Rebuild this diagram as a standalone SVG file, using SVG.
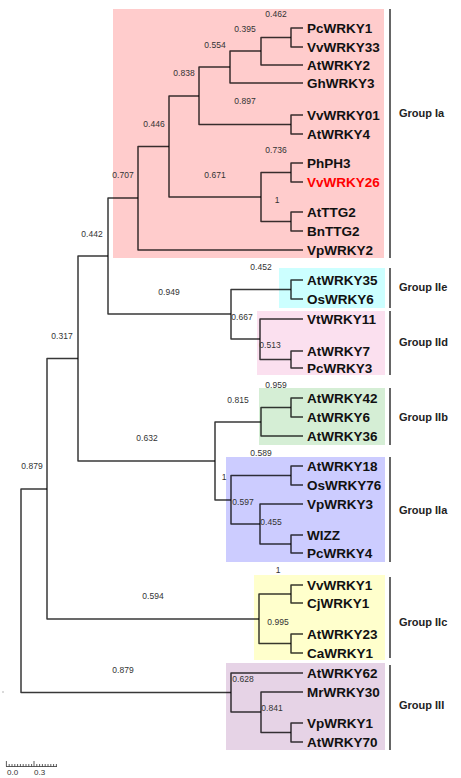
<svg xmlns="http://www.w3.org/2000/svg" width="461" height="778" viewBox="0 0 461 778">
<style>
.leaf{font-family:"Liberation Sans",Arial,sans-serif;font-weight:bold;font-size:13.5px;fill:#111}
.red{fill:#ff0000}
.sup{font-family:"Liberation Sans",Arial,sans-serif;font-size:8.5px;fill:#333;text-anchor:middle}
.grp{font-family:"Liberation Sans",Arial,sans-serif;font-weight:bold;font-size:11px;fill:#222}
.br{fill:none;stroke:#000;stroke-opacity:0.78;stroke-width:1.5;stroke-linejoin:round}
.bar{stroke:#666;stroke-width:2}
.sc{font-family:"Liberation Sans",Arial,sans-serif;font-size:8px;fill:#333}
</style>
<rect width="461" height="778" fill="#fff"/>
<g id="boxes">
<rect id="box-Ia" x="113" y="9" width="271" height="249" fill="#ffcccc"/>
<rect id="box-IIe" x="279" y="268" width="106" height="40" fill="#ccffff"/>
<rect id="box-IId" x="257" y="311" width="128" height="64" fill="#fbe0ef"/>
<rect id="box-IIb" x="259" y="388" width="126" height="57" fill="#d5eed5"/>
<rect id="box-IIa" x="226" y="457" width="159" height="105" fill="#ccccff"/>
<rect id="box-IIc" x="254" y="575" width="131" height="85" fill="#ffffcc"/>
<rect id="box-III" x="226" y="663" width="159" height="87" fill="#e6d3e6"/>
</g>
<g id="connectors">
<path class="br" d="M303 28H291V47H303"/>
<path class="br" d="M291 37.5H261V65H303"/>
<path class="br" d="M261 51H230V83H303"/>
<path class="br" d="M303 115H291V134H303"/>
<path class="br" d="M230 67H199V124.5H291"/>
<path class="br" d="M303 163H291V182H303"/>
<path class="br" d="M303 212H291V231H303"/>
<path class="br" d="M291 172.5H261V221.5H291"/>
<path class="br" d="M199 96H169V197H261"/>
<path class="br" d="M169 146.5H138V250H303"/>
<path class="br" d="M303 280H291V299H303"/>
<path class="br" d="M303 351H291V368H303"/>
<path class="br" d="M303 319H260V359.5H291"/>
<path class="br" d="M291 289.5H231V339H260"/>
<path class="br" d="M138 198H108V314H231"/>
<path class="br" d="M303 398H291V417H303"/>
<path class="br" d="M291 407.5H261V436H303"/>
<path class="br" d="M303 466H291V485H303"/>
<path class="br" d="M303 535H291V553H303"/>
<path class="br" d="M303 504H260V544H291"/>
<path class="br" d="M291 475.5H231V524H260"/>
<path class="br" d="M261 422H215V500H231"/>
<path class="br" d="M108 256H78V461H215"/>
<path class="br" d="M303 585H291V603H303"/>
<path class="br" d="M303 634H291V653H303"/>
<path class="br" d="M291 594H259V643.5H291"/>
<path class="br" d="M78 358.5H47V619H259"/>
<path class="br" d="M303 723H291V742H303"/>
<path class="br" d="M303 692H261V732.5H291"/>
<path class="br" d="M303 673H231V712H261"/>
<path class="br" d="M47 489H21V692.5H231"/>
</g>
<g id="leaves">
<text class="leaf" x="307" y="33">PcWRKY1</text>
<text class="leaf" x="307" y="52">VvWRKY33</text>
<text class="leaf" x="307" y="70">AtWRKY2</text>
<text class="leaf" x="307" y="88">GhWRKY3</text>
<text class="leaf" x="307" y="120">VvWRKY01</text>
<text class="leaf" x="307" y="139">AtWRKY4</text>
<text class="leaf" x="307" y="168">PhPH3</text>
<text class="leaf red" x="307" y="187">VvWRKY26</text>
<text class="leaf" x="307" y="217">AtTTG2</text>
<text class="leaf" x="307" y="236">BnTTG2</text>
<text class="leaf" x="307" y="255">VpWRKY2</text>
<text class="leaf" x="307" y="285">AtWRKY35</text>
<text class="leaf" x="307" y="304">OsWRKY6</text>
<text class="leaf" x="307" y="324">VtWRKY11</text>
<text class="leaf" x="307" y="356">AtWRKY7</text>
<text class="leaf" x="307" y="373">PcWRKY3</text>
<text class="leaf" x="307" y="403">AtWRKY42</text>
<text class="leaf" x="307" y="422">AtWRKY6</text>
<text class="leaf" x="307" y="441">AtWRKY36</text>
<text class="leaf" x="307" y="471">AtWRKY18</text>
<text class="leaf" x="307" y="490">OsWRKY76</text>
<text class="leaf" x="307" y="509">VpWRKY3</text>
<text class="leaf" x="307" y="540">WIZZ</text>
<text class="leaf" x="307" y="558">PcWRKY4</text>
<text class="leaf" x="307" y="590">VvWRKY1</text>
<text class="leaf" x="307" y="608">CjWRKY1</text>
<text class="leaf" x="307" y="639">AtWRKY23</text>
<text class="leaf" x="307" y="658">CaWRKY1</text>
<text class="leaf" x="307" y="678">AtWRKY62</text>
<text class="leaf" x="307" y="697">MrWRKY30</text>
<text class="leaf" x="307" y="728">VpWRKY1</text>
<text class="leaf" x="307" y="747">AtWRKY70</text>
</g>
<g id="support">
<text class="sup" x="276" y="17">0.462</text>
<text class="sup" x="245" y="32">0.395</text>
<text class="sup" x="215" y="48">0.554</text>
<text class="sup" x="184" y="76">0.838</text>
<text class="sup" x="245" y="104">0.897</text>
<text class="sup" x="154" y="127">0.446</text>
<text class="sup" x="276" y="153">0.736</text>
<text class="sup" x="215" y="178">0.671</text>
<text class="sup" x="123" y="178">0.707</text>
<text class="sup" x="277" y="203">1</text>
<text class="sup" x="92" y="237">0.442</text>
<text class="sup" x="261" y="270">0.452</text>
<text class="sup" x="169" y="295">0.949</text>
<text class="sup" x="242" y="320">0.667</text>
<text class="sup" x="270" y="348">0.513</text>
<text class="sup" x="62" y="339">0.317</text>
<text class="sup" x="276" y="388">0.959</text>
<text class="sup" x="238" y="403">0.815</text>
<text class="sup" x="147" y="441">0.632</text>
<text class="sup" x="261" y="456">0.589</text>
<text class="sup" x="224" y="480">1</text>
<text class="sup" x="243" y="505">0.597</text>
<text class="sup" x="271" y="525">0.455</text>
<text class="sup" x="32" y="469">0.879</text>
<text class="sup" x="278" y="573">1</text>
<text class="sup" x="153" y="599">0.594</text>
<text class="sup" x="278" y="625">0.995</text>
<text class="sup" x="123" y="673">0.879</text>
<text class="sup" x="243" y="682">0.628</text>
<text class="sup" x="272" y="711">0.841</text>
</g>
<g id="groups">
<g id="group-Ia"><line class="bar" x1="390" y1="9" x2="390" y2="258"/><text class="grp" x="399" y="117">Group Ia</text></g>
<g id="group-IIe"><line class="bar" x1="390" y1="268" x2="390" y2="308"/><text class="grp" x="399" y="291">Group IIe</text></g>
<g id="group-IId"><line class="bar" x1="390" y1="311" x2="390" y2="375"/><text class="grp" x="399" y="346">Group IId</text></g>
<g id="group-IIb"><line class="bar" x1="390" y1="388" x2="390" y2="445"/><text class="grp" x="399" y="421">Group IIb</text></g>
<g id="group-IIa"><line class="bar" x1="390" y1="457" x2="390" y2="562"/><text class="grp" x="399" y="514">Group IIa</text></g>
<g id="group-IIc"><line class="bar" x1="390" y1="577" x2="390" y2="658"/><text class="grp" x="399" y="626">Group IIc</text></g>
<g id="group-III"><line class="bar" x1="390" y1="665" x2="390" y2="750"/><text class="grp" x="399" y="709">Group III</text></g>
</g>
<g id="scale">
<path fill="none" stroke="#333" stroke-width="0.8" d="M6 766.5H57M6.4 761V766.5M34 761V766.5M9.2 764V766.5M12 764V766.5M14.8 764V766.5M17.6 764V766.5M20.4 764V766.5M23.2 764V766.5M26 764V766.5M28.8 764V766.5M31.6 764V766.5M36.8 764V766.5M39.6 764V766.5M42.4 764V766.5M45.2 764V766.5M48 764V766.5M50.8 764V766.5M53.6 764V766.5M56.4 764V766.5"/>
<text class="sc" x="7" y="775">0.0</text>
<text class="sc" x="34" y="775">0.3</text>
</g>
<circle cx="3" cy="692" r="0.7" fill="#999"/>
</svg>
